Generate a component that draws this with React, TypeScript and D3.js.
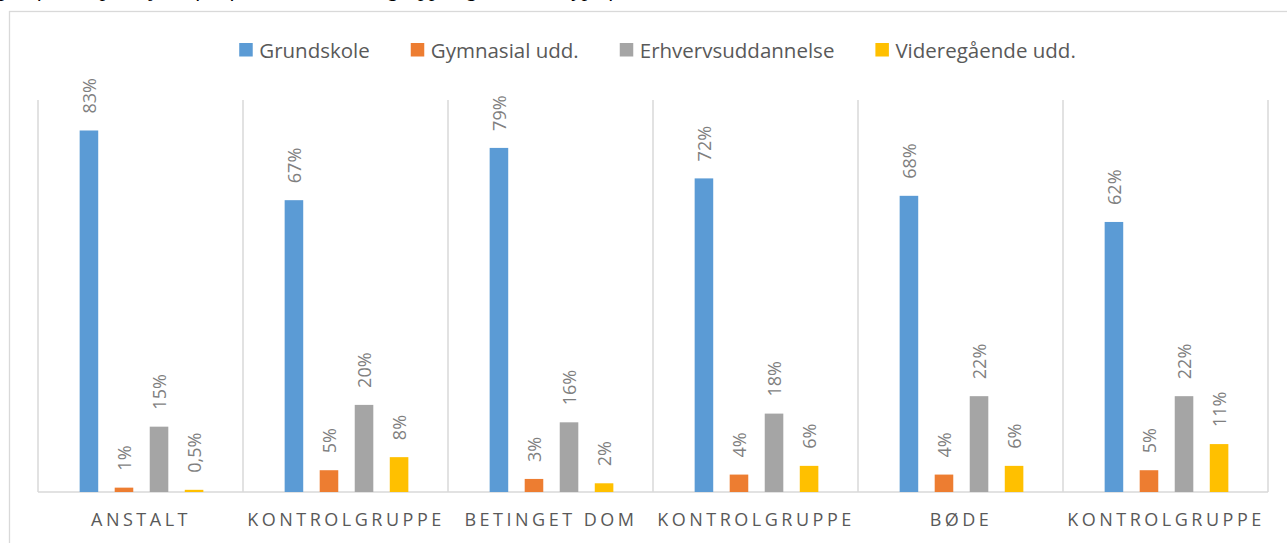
import React, { useEffect, useRef } from 'react';
import * as d3 from 'd3';

const categories = ['ANSTALT', 'KONTROLGRUPPE', 'BETINGET DOM', 'KONTROLGRUPPE ', 'BØDE', 'KONTROLGRUPPE  '];
const seriesNames = ['Grundskole', 'Gymnasial udd.', 'Erhvervsuddannelse', 'Videregående udd.'];
const seriesColors = ['#5b9bd5', '#ed7d31', '#a5a5a5', '#ffc000'];

// one array per series, in category order (percent)
const grundskole = [83, 67, 79, 72, 68, 62];
const gymnasial = [1, 5, 3, 4, 4, 5];
const erhverv = [15, 20, 16, 18, 22, 22];
const videregaaende = [0.5, 8, 2, 6, 6, 11];
const seriesValues = [grundskole, gymnasial, erhverv, videregaaende];

const W = 1287;
const H = 543;
const FONT = '"Open Sans", sans-serif';

export default function App() {
  const svgRef = useRef<SVGSVGElement>(null);

  useEffect(() => {
    const svg = d3.select(svgRef.current);
    svg.selectAll('*').remove();

    // caption line cut off at the top of the picture
    svg.append('text')
      .attr('x', 0)
      .attr('y', -4)
      .attr('font-family', '"Liberation Serif", serif')
      .attr('font-style', 'italic')
      .attr('font-size', 22)
      .attr('fill', '#000')
      .text('pct. fordelt på højeste fuldførte uddannelse, gruppe og sanktionstype for dømte');

    // chart frame
    svg.append('rect')
      .attr('x', 9.5).attr('y', 11.5)
      .attr('width', W).attr('height', H)
      .attr('fill', '#fff').attr('stroke', '#d9d9d9').attr('stroke-width', 1.3);

    const left = 38, right = 1268, top = 100, bottom = 492;

    const x0 = d3.scaleBand<number>()
      .domain(d3.range(categories.length))
      .range([left, right]);

    const x1 = d3.scaleBand<number>()
      .domain(d3.range(seriesNames.length))
      .range([0, x0.bandwidth()])
      .paddingInner(0.47)
      .paddingOuter(1.16);

    const y = d3.scaleLinear().domain([0, 90]).range([bottom, top]);

    // category separators
    const seps = d3.range(categories.length + 1).map(i => i === categories.length ? right : x0(i)!);
    svg.append('g').selectAll('line')
      .data(seps)
      .enter()
      .append('line')
      .attr('x1', d => d).attr('x2', d => d)
      .attr('y1', top).attr('y2', bottom)
      .attr('stroke', '#d9d9d9').attr('stroke-width', 1.5);

    svg.append('line')
      .attr('x1', left).attr('x2', right)
      .attr('y1', bottom).attr('y2', bottom)
      .attr('stroke', '#d9d9d9').attr('stroke-width', 1.5);

    const fmt = (v: number) => String(v).replace('.', ',') + '%';

    seriesValues.forEach((vals, s) => {
      const g = svg.append('g');
      g.selectAll('rect')
        .data(vals)
        .enter()
        .append('rect')
        .attr('x', (_, i) => x0(i)! + x1(s)! + 1)
        .attr('y', d => y(d))
        .attr('width', x1.bandwidth())
        .attr('height', d => bottom - y(d))
        .attr('fill', seriesColors[s]);

      g.selectAll('text')
        .data(vals)
        .enter()
        .append('text')
        .attr('transform', (d, i) => `translate(${x0(i)! + x1(s)! + 1 + x1.bandwidth() / 2},${y(d) - 17}) rotate(-90)`)
        .attr('dominant-baseline', 'central')
        .attr('font-family', FONT)
        .attr('font-size', 18)
        .attr('fill', '#7f7f7f')
        .text(d => fmt(d));
    });

    // category labels
    svg.append('g').selectAll('text')
      .data(categories)
      .enter()
      .append('text')
      .attr('x', (_, i) => x0(i)! + x0.bandwidth() / 2 + 0.5)
      .attr('y', 526)
      .attr('text-anchor', 'middle')
      .attr('font-family', FONT)
      .attr('font-size', 18)
      .attr('letter-spacing', 3.5)
      .attr('fill', '#595959')
      .text(d => d.trim());

    // legend
    const gap = 41;
    const legend = svg.append('g');
    let cx = 0;
    seriesNames.forEach((name, s) => {
      const item = legend.append('g').attr('transform', `translate(${cx},0)`);
      item.append('rect')
        .attr('x', 0).attr('y', -7)
        .attr('width', 13.5).attr('height', 13.5)
        .attr('fill', seriesColors[s]);
      const t = item.append('text')
        .attr('x', 20).attr('y', 0)
        .attr('dominant-baseline', 'central')
        .attr('font-family', FONT)
        .attr('font-size', 20.5)
        .attr('fill', '#595959')
        .text(name);
      const w = (t.node() as SVGTextElement).getComputedTextLength();
      cx += 20 + w + gap;
    });
    const total = cx - gap;
    legend.attr('transform', `translate(${657.5 - total / 2},50)`);
  }, []);

  return (
    <div style={{ position: 'fixed', left: 0, top: 0 }}>
      <svg ref={svgRef} width={W} height={H} style={{ display: 'block', background: '#fff' }} />
    </div>
  );
}
